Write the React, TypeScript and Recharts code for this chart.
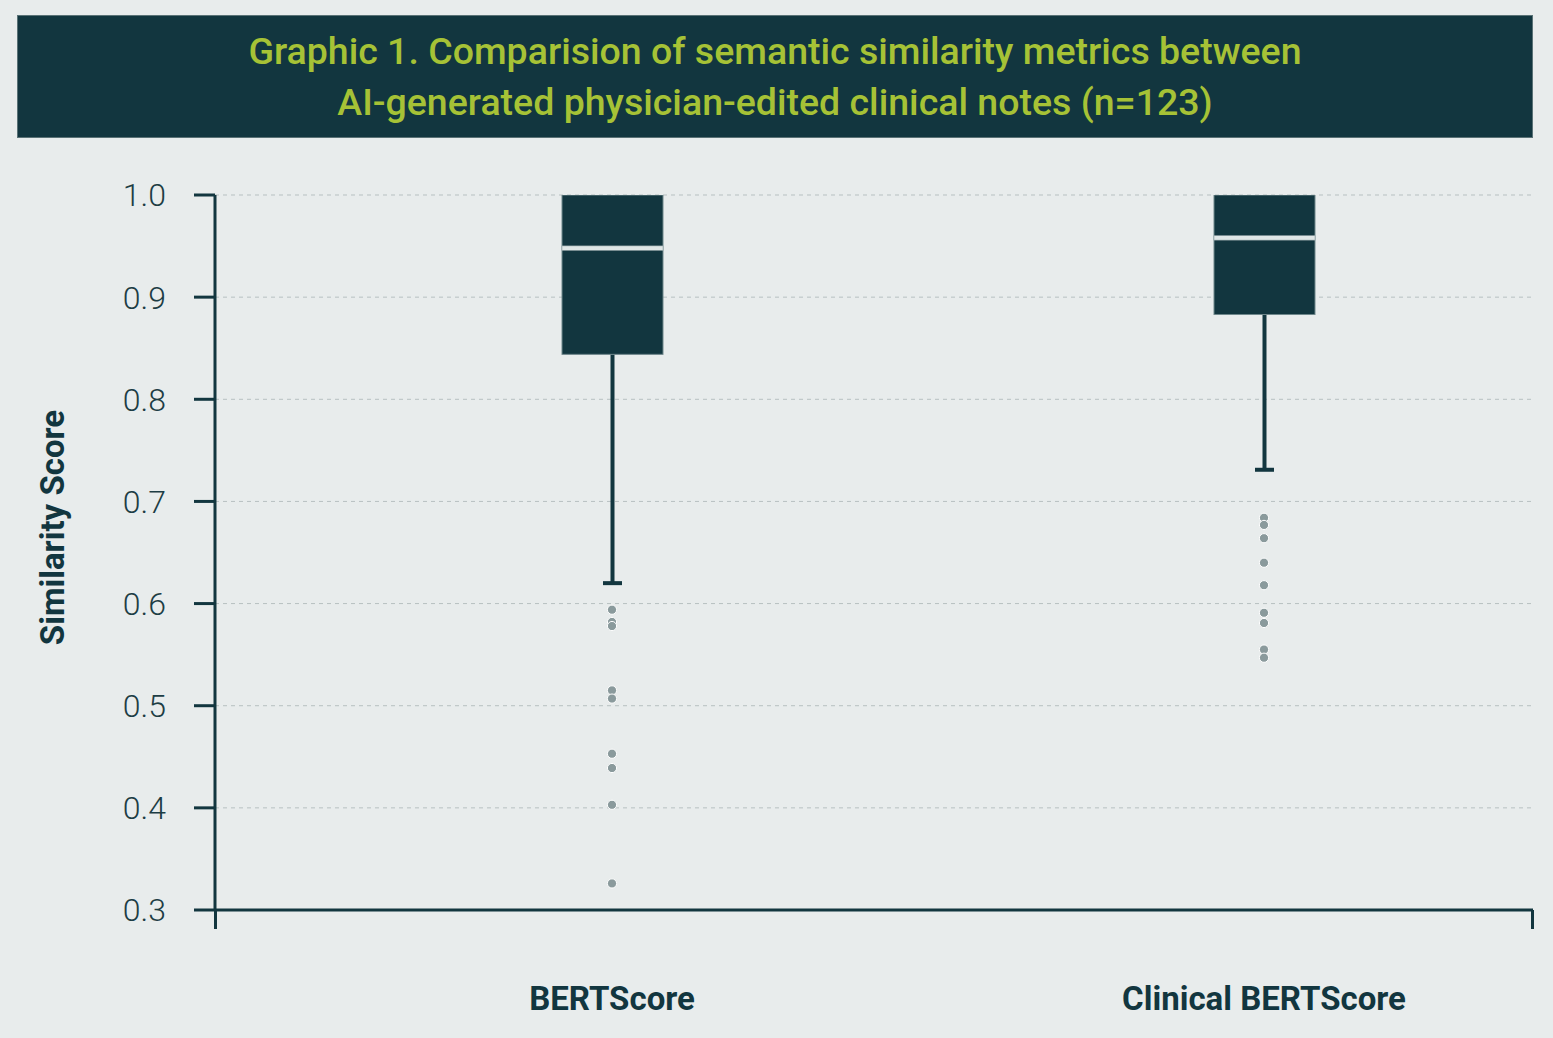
import React from "react";
import { Bar, CartesianGrid, ComposedChart, Scatter, XAxis, YAxis } from "recharts";

// values
const categories = ["BERTScore", "Clinical BERTScore"];
const q1 = [0.844, 0.883];
const median = [0.948, 0.958];
const q3 = [1.0, 1.0];
const whiskerLow = [0.62, 0.731];
const bertOutliers = [0.594, 0.582, 0.578, 0.515, 0.507, 0.453, 0.439, 0.403, 0.326];
const clinicalOutliers = [0.684, 0.677, 0.664, 0.64, 0.618, 0.591, 0.581, 0.555, 0.547];
const yTicks = [0.3, 0.4, 0.5, 0.6, 0.7, 0.8, 0.9, 1.0];

const DARK = "#12363f";
const TEXT = "#1d3d44";

const boxData = categories.map((name, i) => ({
  name,
  box: [q1[i], q3[i]],
  q1: q1[i],
  q3: q3[i],
  median: median[i],
  low: whiskerLow[i],
}));

const outlierData = [
  ...bertOutliers.map((v) => ({ name: categories[0], v })),
  ...clinicalOutliers.map((v) => ({ name: categories[1], v })),
];

function BoxShape(props: any) {
  const { x, y, width, height, payload } = props;
  const perUnit = height / (payload.q3 - payload.q1);
  const medY = y + (payload.q3 - payload.median) * perUnit;
  const lowY = y + (payload.q3 - payload.low) * perUnit;
  const cx = x + width / 2;
  return (
    <g>
      <rect x={cx - 2} y={y + height} width={4} height={lowY - (y + height)} fill={DARK} />
      <rect x={cx - 9.5} y={lowY - 2} width={19} height={4} fill={DARK} />
      <rect x={x} y={y} width={width} height={height} fill={DARK} stroke="#6f878b" strokeWidth={1} />
      <rect x={x} y={medY - 2.2} width={width} height={4.4} fill="#dfe6e6" stroke="#93a3a6" strokeWidth={0.6} />
    </g>
  );
}

function Dot(props: any) {
  const { cx, cy } = props;
  return <circle cx={cx} cy={cy} r={4.6} fill="#8a9a9c" stroke="#ffffff" strokeWidth={1} />;
}

function YLabel(props: any) {
  const { viewBox } = props;
  const x = 52;
  const y = viewBox.y + viewBox.height / 2 - 25;
  return (
    <text
      x={x}
      y={y}
      transform={`rotate(-90 ${x} ${y})`}
      textAnchor="middle"
      dominantBaseline="central"
      fill={DARK}
      fontFamily="Roboto"
      fontWeight={700}
      fontSize={33}
    >
      Similarity Score
    </text>
  );
}

export default function App() {
  return (
    <div
      style={{
        position: "absolute",
        left: 0,
        top: 0,
        width: 1553,
        height: 1038,
        background: "#e8ecec",
        fontFamily: "Roboto",
        overflow: "hidden",
      }}
    >
      <div
        style={{
          position: "absolute",
          left: 17,
          top: 15,
          width: 1516,
          height: 123,
          boxSizing: "border-box",
          background: DARK,
          border: "1px solid #5a7276",
          display: "flex",
          alignItems: "center",
          justifyContent: "center",
          textAlign: "center",
          color: "#a6c236",
          fontWeight: 500,
          fontSize: 37.5,
          lineHeight: "51px",
        }}
      >
        <div>
          Graphic 1. Comparision of semantic similarity metrics between
          <br />
          AI-generated physician-edited clinical notes (n=123)
        </div>
      </div>

      <div style={{ position: "absolute", left: 0, top: 0 }}>
        <ComposedChart
          width={1553}
          height={1038}
          data={boxData}
          margin={{ top: 195, right: 20, bottom: 0, left: 0 }}
        >
          <CartesianGrid vertical={false} stroke="#b7c0c1" strokeDasharray="4 4" />
          <XAxis
            dataKey="name"
            allowDuplicatedCategory={false}
            padding={{ left: 71, right: -57 }}
            height={128}
            tickLine={false}
            tickSize={0}
            tickMargin={77}
            axisLine={{ stroke: DARK, strokeWidth: 3 }}
            tick={{ fill: DARK, fontFamily: "Roboto", fontWeight: 700, fontSize: 33 }}
          />
          <YAxis
            type="number"
            domain={[0.3, 1.0]}
            ticks={yTicks}
            allowDataOverflow
            width={215}
            tickSize={21}
            tickMargin={28}
            tickFormatter={(v: number) => v.toFixed(1)}
            axisLine={{ stroke: DARK, strokeWidth: 3 }}
            tickLine={{ stroke: DARK, strokeWidth: 3 }}
            tick={{ fill: TEXT, fontFamily: "Roboto", fontWeight: 300, fontSize: 32 }}
            label={<YLabel />}
          />
          <Bar dataKey="box" barSize={101} shape={<BoxShape />} isAnimationActive={false} />
          <Scatter data={outlierData} dataKey="v" shape={<Dot />} isAnimationActive={false} />
        </ComposedChart>
      </div>

      <div style={{ position: "absolute", left: 213.5, top: 910, width: 3, height: 19, background: DARK }} />
      <div style={{ position: "absolute", left: 1530.5, top: 910, width: 3, height: 19, background: DARK }} />
    </div>
  );
}
